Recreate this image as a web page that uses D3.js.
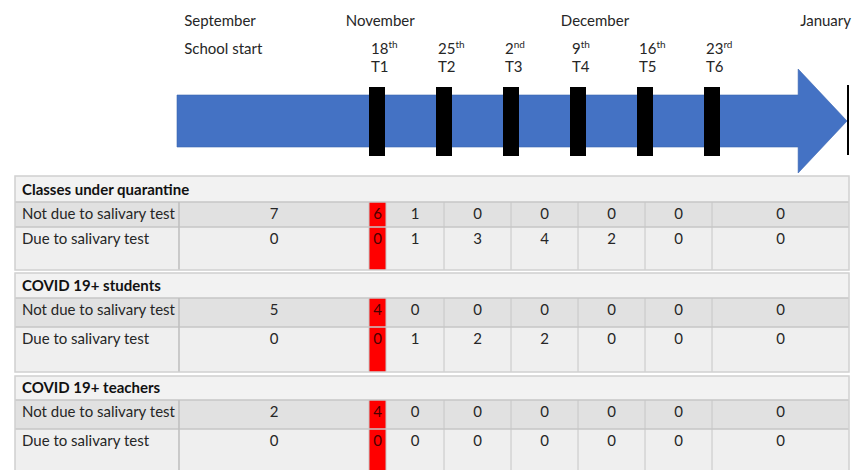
<!DOCTYPE html>
<html><head><meta charset="utf-8">
<script src="https://cdn.jsdelivr.net/npm/d3@7"></script>
<style>body{margin:0;background:#fff} svg{display:block}</style>
</head><body><svg id="c" width="852" height="470"></svg>
<script>
// ---------- data ----------
const schoolStart = "2020-09-01";
const arrowHeadDate = "2021-01-01";
const timelineEnd = "2021-01-06";
const monthLabels = ["September", "November", "December", "January"];
const monthLabelDates = ["2020-09-03", "2020-11-05", "2020-12-07", "2021-01-01"];
const startLabel = "School start";
const testDates = ["2020-11-18", "2020-11-25", "2020-12-02", "2020-12-09", "2020-12-16", "2020-12-23"];
const testDayNums = ["18", "25", "2", "9", "16", "23"];
const testDaySuffix = ["th", "th", "nd", "th", "th", "rd"];
const testNames = ["T1", "T2", "T3", "T4", "T5", "T6"];
const sectionTitles = ["Classes under quarantine", "COVID 19+ students", "COVID 19+ teachers"];
const rowLabels = ["Not due to salivary test", "Due to salivary test"];
const periods = ["Sep–T1", "T1", "T1–T2", "T2–T3", "T3–T4", "T4–T5", "T5–T6", "T6–Jan"];
const quarantineNotDue = [7, 6, 1, 0, 0, 0, 0, 0];
const quarantineDue    = [0, 0, 1, 3, 4, 2, 0, 0];
const studentsNotDue   = [5, 4, 0, 0, 0, 0, 0, 0];
const studentsDue      = [0, 0, 1, 2, 2, 0, 0, 0];
const teachersNotDue   = [2, 4, 0, 0, 0, 0, 0, 0];
const teachersDue      = [0, 0, 0, 0, 0, 0, 0, 0];

const tableData = [
  [quarantineNotDue, quarantineDue],
  [studentsNotDue, studentsDue],
  [teachersNotDue, teachersDue]
];

// ---------- layout ----------
const W = 852, H = 470;
const FONT = "Lato, 'Open Sans', sans-serif";
const textColor = "#262626";
const blue = "#4472C4";
const parse = d3.utcParse("%Y-%m-%d");

const x = d3.scaleUtc()
  .domain([parse(schoolStart), parse(testDates[0]), parse(testDates[testDates.length - 1])])
  .range([177, 377, 712]);

const svg = d3.select("#c").attr("width", W).attr("height", H)
  .style("font-family", FONT);

// ---------- timeline arrow ----------
const shaftTop = 95, shaftBot = 147, headTop = 69, headBot = 173;
const midY = (shaftTop + shaftBot) / 2;
const x0 = x(parse(schoolStart)), xh = x(parse(arrowHeadDate)), xt = x(parse(timelineEnd)) + 1;
const p = d3.path();
p.moveTo(x0, shaftTop); p.lineTo(xh, shaftTop); p.lineTo(xh, headTop);
p.lineTo(xt, midY); p.lineTo(xh, headBot); p.lineTo(xh, shaftBot);
p.lineTo(x0, shaftBot); p.closePath();
svg.append("path").attr("d", p.toString()).attr("fill", blue)
  .attr("stroke", "#3a64b0").attr("stroke-width", 0.6);

svg.append("line").attr("x1", xt + 1).attr("x2", xt + 1).attr("y1", 85).attr("y2", 155)
  .attr("stroke", "#000").attr("stroke-width", 2);

const markerW = 16;
svg.selectAll("rect.marker").data(testDates).join("rect").attr("class", "marker")
  .attr("x", d => x(parse(d)) - markerW / 2).attr("width", markerW)
  .attr("y", 87).attr("height", 69).attr("fill", "#000");

// ---------- timeline labels ----------
svg.selectAll("text.month").data(monthLabels).join("text").attr("class", "month")
  .attr("x", (d, i) => x(parse(monthLabelDates[i])) + 2)
  .attr("y", 26).attr("font-size", 15).attr("fill", textColor).text(d => d);

svg.append("text").attr("x", x(parse(monthLabelDates[0])) + 2).attr("y", 54)
  .attr("font-size", 15).attr("fill", textColor).text(startLabel);

const day = svg.selectAll("text.day").data(testDates).join("text").attr("class", "day")
  .attr("x", d => x(parse(d)) - markerW / 2 + 2).attr("y", 54)
  .attr("font-size", 15).attr("fill", textColor);
day.append("tspan").text((d, i) => testDayNums[i]);
day.append("tspan").attr("font-size", 10).attr("dy", -6).text((d, i) => testDaySuffix[i]);

svg.selectAll("text.tname").data(testDates).join("text").attr("class", "tname")
  .attr("x", d => x(parse(d)) - markerW / 2 + 2).attr("y", 72)
  .attr("font-size", 15).attr("fill", textColor).text((d, i) => testNames[i]);

// ---------- table ----------
const tableLeft = 15, tableRight = 849;
const colEdges = [
  x(parse(schoolStart)) + 2,
  x(parse(testDates[0])) - markerW / 2,
  x(parse(testDates[0])) + markerW / 2 + 1,
  ...testDates.slice(1).map(d => x(parse(d))),
  tableRight
];
const tableTop = 176;
const headerHs = [26, 25, 24];
const row1Hs = [25, 29, 29];
const row2Hs = [43, 45, 45];
const gapHs = [3, 4, 0];
const rowFill = ["#E1E1E1", "#EFEFEF"];
const gridColor = "#C6C6C6";

let secTop = tableTop;
sectionTitles.forEach((title, s) => {
  const headerH = headerHs[s], rowH = [row1Hs[s], row2Hs[s]];
  const g = svg.append("g").attr("transform", `translate(0,${secTop})`);
  const bodyH = headerH + rowH[0] + rowH[1];
  g.append("rect").attr("x", tableLeft).attr("y", 0).attr("width", tableRight - tableLeft)
    .attr("height", headerH).attr("fill", "#F2F2F2");
  let yy = headerH;
  const rowTops = [];
  rowLabels.forEach((lab, r) => {
    rowTops.push(yy);
    g.append("rect").attr("x", tableLeft).attr("y", yy).attr("width", tableRight - tableLeft)
      .attr("height", rowH[r]).attr("fill", rowFill[r]);
    yy += rowH[r];
  });
  // red T1 column
  g.append("rect").attr("x", colEdges[1]).attr("y", headerH)
    .attr("width", colEdges[2] - colEdges[1]).attr("height", rowH[0] + rowH[1])
    .attr("fill", "#FF0000");
  [headerH, headerH + rowH[0]].forEach(yl => {
    g.append("line").attr("x1", tableLeft).attr("x2", tableRight).attr("y1", yl).attr("y2", yl)
      .attr("stroke", gridColor).attr("stroke-width", 1.5);
  });
  colEdges.slice(0, -1).forEach((ex, k) => {
    g.append("line").attr("x1", ex).attr("x2", ex).attr("y1", headerH).attr("y2", bodyH)
      .attr("stroke", k === 0 ? "#C0C0C0" : gridColor).attr("stroke-width", k === 0 ? 1.6 : 1);
  });
  g.append("rect").attr("x", tableLeft).attr("y", 0).attr("width", tableRight - tableLeft)
    .attr("height", bodyH).attr("fill", "none").attr("stroke", "#D0D0D0").attr("stroke-width", 1.5);
  g.append("text").attr("x", tableLeft + 7).attr("y", headerH - 7).attr("font-size", 15)
    .attr("font-weight", "bold").attr("fill", "#111").text(title);
  rowLabels.forEach((lab, r) => {
    g.append("text").attr("x", tableLeft + 7).attr("y", rowTops[r] + 17).attr("font-size", 15)
      .attr("fill", textColor).text(lab);
    g.selectAll(null).data(tableData[s][r]).join("text")
      .attr("x", (d, c) => (colEdges[c] + colEdges[c + 1]) / 2)
      .attr("y", rowTops[r] + 17).attr("text-anchor", "middle").attr("font-size", 15)
      .attr("fill", (d, c) => c === 1 ? "#4a0000" : textColor)
      .text(d => d);
  });
  secTop += bodyH + gapHs[s];
});
</script>
</body></html>
